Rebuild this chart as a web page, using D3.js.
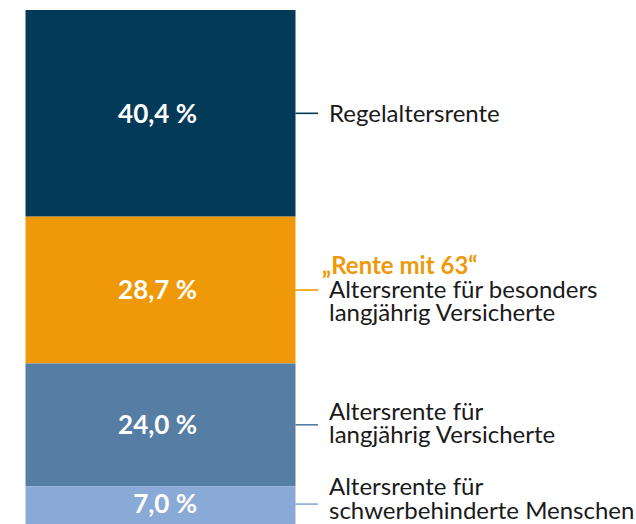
<!DOCTYPE html>
<html>
<head>
<meta charset="utf-8">
<script src="https://cdn.jsdelivr.net/npm/d3@7"></script>
<style>
  html, body { margin: 0; padding: 0; background: #fff; }
  svg { display: block; }
</style>
</head>
<body>
<svg id="chart" width="636" height="524"></svg>
<script>
// ---- data ----
const categories = ["Regelaltersrente", "Rente mit 63", "langjährig Versicherte", "schwerbehinderte Menschen"];
const values = [40.4, 28.7, 24.0, 7.0];
const valueLabels = ["40,4 %", "28,7 %", "24,0 %", "7,0 %"];
const highlightLines = [null, "„Rente mit 63“", null, null];
const labelLines = [
  ["Regelaltersrente"],
  ["Altersrente für besonders", "langjährig Versicherte"],
  ["Altersrente für", "langjährig Versicherte"],
  ["Altersrente für", "schwerbehinderte Menschen"]
];
const colors = ["#033a57", "#ef9908", "#567ea5", "#89a9d6"];

// ---- layout ----
const svg = d3.select("#chart");
const barX0 = 25.5, barX1 = 295.5;
const total = d3.sum(values);
const y = d3.scaleLinear().domain([0, total]).range([10, 522]);

const stacked = [];
let acc = 0;
values.forEach((v, i) => { stacked.push({i, v, y0: acc, y1: acc + v}); acc += v; });

const x = d3.scaleBand().domain(["bar"]).range([barX0, barX1]).padding(0);

svg.selectAll("rect.seg").data(stacked).join("rect")
  .attr("class", "seg")
  .attr("x", x("bar"))
  .attr("width", x.bandwidth())
  .attr("y", d => y(d.y0))
  .attr("height", d => (d.i === stacked.length - 1 ? 524 : y(d.y1)) - y(d.y0))
  .attr("fill", d => colors[d.i]);

// value labels (right-aligned, as in the reference)
svg.selectAll("text.val").data(stacked).join("text")
  .attr("class", "val")
  .attr("x", x("bar") + x.bandwidth() / 2 + 36.5)
  .attr("y", d => (y(d.y0) + y(d.y1)) / 2)
  .attr("dy", "0.36em")
  .attr("text-anchor", "end")
  .attr("fill", "#fff")
  .style("font-family", "Lato, sans-serif")
  .style("font-weight", "700")
  .style("font-size", "26px")
  .text(d => valueLabels[d.i]);

// leader lines
svg.selectAll("line.lead").data(stacked).join("line")
  .attr("class", "lead")
  .attr("x1", barX1)
  .attr("x2", 318)
  .attr("y1", d => (y(d.y0) + y(d.y1)) / 2)
  .attr("y2", d => (y(d.y0) + y(d.y1)) / 2)
  .attr("stroke", d => colors[d.i])
  .attr("stroke-width", 1.6);

// labels: one text element per label, lines as tspans
const lineH = 23.5;
const labelX = 329;
const firstOffsets = [8.5, 7.5, -5, -9]; // baseline of first plain line relative to leader line
stacked.forEach(d => {
  const cy = (y(d.y0) + y(d.y1)) / 2;
  const lines = labelLines[d.i];
  const firstBaseline = cy + firstOffsets[d.i];
  const t = svg.append("text")
    .attr("fill", "#1a1a1a")
    .style("font-family", "Lato, sans-serif")
    .style("font-size", "24px");
  if (highlightLines[d.i]) {
    t.append("tspan")
      .attr("x", labelX - 7)
      .attr("y", firstBaseline - lineH)
      .attr("fill", colors[d.i])
      .style("font-weight", "700")
      .text(highlightLines[d.i]);
  }
  lines.forEach((s, k) => {
    t.append("tspan")
      .attr("x", labelX)
      .attr("y", firstBaseline + k * lineH)
      .text(s);
  });
});
</script>
</body>
</html>
